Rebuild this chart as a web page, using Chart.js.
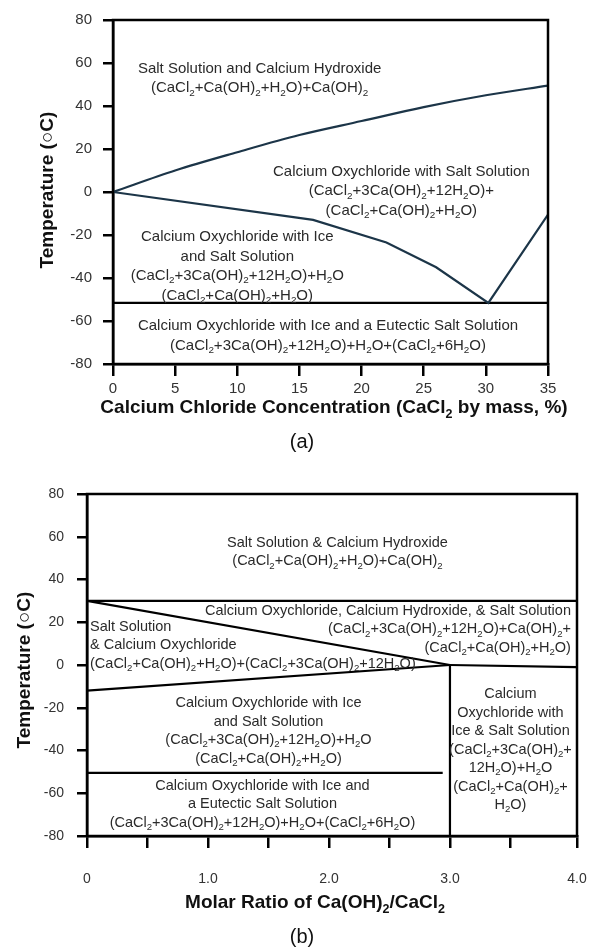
<!DOCTYPE html>
<html>
<head>
<meta charset="utf-8">
<script src="https://cdn.jsdelivr.net/npm/chart.js@4.4.1/dist/chart.umd.min.js"></script>
<style>
  html, body { margin: 0; padding: 0; background: #fff; }
  body { width: 595px; height: 949px; position: relative; overflow: hidden; }
  .box { position: absolute; left: 0; width: 595px; }
  #boxA { top: 0; height: 460px; }
  #boxB { top: 460px; height: 489px; }
</style>
</head>
<body>
<div class="box" id="boxA"><canvas id="chartA"></canvas></div>
<div class="box" id="boxB"><canvas id="chartB"></canvas></div>
<script>
// ---- (a) phase boundaries vs CaCl2 concentration (mass %) ----
const concUpper = [0, 5, 10, 15, 20, 25, 30, 35];
const tempUpper = [0, 10, 18.5, 26.5, 33, 39.5, 45, 49.5];
const concLower = [0, 16.1, 22, 26, 30.2, 35];
const tempLower = [0, -13, -23.5, -35, -51.6, -10.5];
const concEutectic = [0, 35];
const tempEutectic = [-51.6, -51.6];

// ---- (b) phase boundaries vs molar ratio Ca(OH)2/CaCl2 ----
// the drawn frame runs a little past 4.0, its corner carries the "4.0" label
const ratioEdge = 4.05;
const ratioTop = [0, ratioEdge];
const tempTop = [30, 30];
const ratioUpperDiag = [0, 3];
const tempUpperDiag = [30, 0];
const ratioLowerDiag = [0, 3];
const tempLowerDiag = [-12, 0];
const ratioRight = [3, ratioEdge];
const tempRight = [0, -1];
const ratioVertical = [3, 3];
const tempVertical = [0, -80];
const ratioEutecticB = [0, 2.94];
const tempEutecticB = [-50.5, -50.5];

// region texts ("_2" = subscript 2)
const textA1 = ["Salt Solution and Calcium Hydroxide", "(CaCl_2+Ca(OH)_2+H_2O)+Ca(OH)_2"];
const textA2 = ["Calcium Oxychloride with Salt Solution", "(CaCl_2+3Ca(OH)_2+12H_2O)+", "(CaCl_2+Ca(OH)_2+H_2O)"];
const textA3 = ["Calcium Oxychloride with Ice", "and Salt Solution", "(CaCl_2+3Ca(OH)_2+12H_2O)+H_2O", "(CaCl_2+Ca(OH)_2+H_2O)"];
const textA4 = ["Calcium Oxychloride with Ice and a Eutectic Salt Solution", "(CaCl_2+3Ca(OH)_2+12H_2O)+H_2O+(CaCl_2+6H_2O)"];

const textB1 = ["Salt Solution & Calcium Hydroxide", "(CaCl_2+Ca(OH)_2+H_2O)+Ca(OH)_2"];
const textB2 = ["Calcium Oxychloride, Calcium Hydroxide, & Salt Solution", "(CaCl_2+3Ca(OH)_2+12H_2O)+Ca(OH)_2+", "(CaCl_2+Ca(OH)_2+H_2O)"];
const textB3 = ["Salt Solution", "& Calcium Oxychloride", "(CaCl_2+Ca(OH)_2+H_2O)+(CaCl_2+3Ca(OH)_2+12H_2O)"];
const textB4 = ["Calcium Oxychloride with Ice", "and Salt Solution", "(CaCl_2+3Ca(OH)_2+12H_2O)+H_2O", "(CaCl_2+Ca(OH)_2+H_2O)"];
const textB5 = ["Calcium Oxychloride with Ice and", "a Eutectic Salt Solution", "(CaCl_2+3Ca(OH)_2+12H_2O)+H_2O+(CaCl_2+6H_2O)"];
const textB6 = ["Calcium", "Oxychloride with", "Ice & Salt Solution", "(CaCl_2+3Ca(OH)_2+", "12H_2O)+H_2O", "(CaCl_2+Ca(OH)_2+", "H_2O)"];

const FONT = '"Liberation Sans", Arial, sans-serif';

function pts(xs, ys) {
  return xs.map((x, i) => ({ x: x, y: ys[i] }));
}

// draw text with subscript digits marked as _N
function drawRich(ctx, str, x, y, align, size, weight, color) {
  const parts = str.split(/_(\d)/);
  const base = weight + " " + size + "px " + FONT;
  const sub = weight + " " + (size * 0.66).toFixed(1) + "px " + FONT;
  let w = 0;
  parts.forEach((p, i) => {
    ctx.font = i % 2 ? sub : base;
    w += ctx.measureText(p).width;
  });
  let cx = align === "center" ? x - w / 2 : align === "right" ? x - w : x;
  ctx.textAlign = "left";
  ctx.textBaseline = "middle";
  ctx.fillStyle = color;
  parts.forEach((p, i) => {
    ctx.font = i % 2 ? sub : base;
    ctx.fillText(p, cx, i % 2 ? y + size * 0.32 : y);
    cx += ctx.measureText(p).width;
  });
}

const decorPlugin = {
  id: "decor",
  afterDatasetsDraw(chart, args, opts) {
    const ctx = chart.ctx;
    const xs = chart.scales.x, ys = chart.scales.y;
    const a = chart.chartArea;
    ctx.save();
    // frame
    ctx.strokeStyle = "#000";
    ctx.lineWidth = 2.5;
    ctx.strokeRect(a.left, a.top, a.right - a.left, a.bottom - a.top);
    // region labels
    opts.blocks.forEach((b) => {
      const px = xs.getPixelForValue(b.x);
      const py = ys.getPixelForValue(b.y);
      b.lines.forEach((l, i) => {
        drawRich(ctx, l, px, py + i * opts.lineHeight, b.align, opts.textSize, "normal", "#2a2a2a");
      });
    });
    // axis titles
    drawRich(ctx, opts.xTitle, opts.xTitlePos[0], opts.xTitlePos[1], "center", 19, "bold", "#111");
    ctx.translate(opts.yTitlePos[0], opts.yTitlePos[1]);
    ctx.rotate(-Math.PI / 2);
    drawRich(ctx, "Temperature (\u25CBC)", 0, 0, "center", 19, "bold", "#111");
    ctx.restore();
    ctx.save();
    drawRich(ctx, opts.caption, opts.captionPos[0], opts.captionPos[1], "center", 20, "normal", "#111");
    ctx.restore();
  },
};

function lineSet(data, color, extra) {
  return Object.assign({
    data: data,
    showLine: true,
    borderColor: color,
    borderWidth: 2.2,
    pointRadius: 0,
    tension: 0,
    fill: false,
  }, extra || {});
}

function axes(xMin, xMax, xStep, yWidth, xHeight, tickSize, xPad, yPad, xCallback, xTickFilter) {
  const gridOpts = {
    display: true,
    drawOnChartArea: false,
    drawTicks: true,
    tickLength: 11,
    color: "#000",
    lineWidth: 2.5,
  };
  return {
    x: {
      type: "linear",
      min: xMin,
      max: xMax,
      afterFit: (s) => {
        s.height = xHeight;
        s.paddingLeft = 0;
        s.paddingRight = 0;
      },
      afterBuildTicks: xTickFilter,
      border: { display: true, color: "#000", width: 2.5 },
      grid: Object.assign({}, gridOpts, { tickLength: 12 }),
      ticks: {
        stepSize: xStep,
        autoSkip: false,
        maxRotation: 0,
        padding: xPad,
        color: "#333",
        font: { family: FONT, size: tickSize },
        callback: xCallback,
      },
    },
    y: {
      type: "linear",
      min: -80,
      max: 80,
      afterFit: (s) => { s.width = yWidth; },
      border: { display: true, color: "#000", width: 2.5 },
      grid: Object.assign({}, gridOpts, { tickLength: 10 }),
      ticks: {
        stepSize: 20,
        padding: yPad,
        color: "#333",
        font: { family: FONT, size: tickSize },
      },
    },
  };
}

const baseOptions = {
  responsive: true,
  maintainAspectRatio: false,
  animation: false,
  plugins: { legend: { display: false }, tooltip: { enabled: false } },
};

// chart (a)
const curveColor = "#1c3548";
new Chart(document.getElementById("chartA").getContext("2d"), {
  type: "scatter",
  data: {
    datasets: [
      lineSet(pts(concUpper, tempUpper), curveColor, { cubicInterpolationMode: "monotone" }),
      lineSet(pts(concLower, tempLower), curveColor),
      lineSet(pts(concEutectic, tempEutectic), "#000"),
    ],
  },
  options: Object.assign({}, baseOptions, {
    layout: { padding: { left: 0, right: 47, top: 12, bottom: 0 } },
    scales: axes(0, 35, 5, 113, 96, 15, 4, 11, (v) => v),
    plugins: Object.assign({}, baseOptions.plugins, {
      decor: {
        textSize: 15,
        lineHeight: 19.5,
        blocks: [
          { lines: textA1, x: 11.8, y: 57.3, align: "center" },
          { lines: textA2, x: 23.2, y: 9.5, align: "center" },
          { lines: textA3, x: 10.0, y: -20.9, align: "center" },
          { lines: textA4, x: 17.3, y: -62.3, align: "center" },
        ],
        xTitle: "Calcium Chloride Concentration (CaCl_2 by mass, %)",
        xTitlePos: [334, 408],
        yTitlePos: [48, 190],
        caption: "(a)",
        captionPos: [302, 442],
      },
    }),
  }),
  plugins: [decorPlugin],
});

// chart (b)
new Chart(document.getElementById("chartB").getContext("2d"), {
  type: "scatter",
  data: {
    datasets: [
      lineSet(pts(ratioTop, tempTop), "#000"),
      lineSet(pts(ratioUpperDiag, tempUpperDiag), "#000"),
      lineSet(pts(ratioLowerDiag, tempLowerDiag), "#000"),
      lineSet(pts(ratioRight, tempRight), "#000"),
      lineSet(pts(ratioVertical, tempVertical), "#000"),
      lineSet(pts(ratioEutecticB, tempEutecticB), "#000"),
    ],
  },
  options: Object.assign({}, baseOptions, {
    layout: { padding: { left: 0, right: 18, top: 34, bottom: 0 } },
    scales: axes(
      0, ratioEdge, 0.5, 87, 113, 14, 23, 13,
      (v) => (v === 0 ? "0" : v === ratioEdge ? "4.0" : Number.isInteger(v) ? v.toFixed(1) : ""),
      (s) => {
        // last tick sits on the frame corner
        s.ticks = s.ticks.filter((t) => t.value <= 3.5);
        s.ticks.push({ value: ratioEdge });
      }
    ),
    plugins: Object.assign({}, baseOptions.plugins, {
      decor: {
        textSize: 14.5,
        lineHeight: 18.5,
        blocks: [
          { lines: textB1, x: 2.07, y: 57.1, align: "center" },
          { lines: textB2, x: 4.0, y: 25.3, align: "right" },
          { lines: textB3, x: 0.025, y: 17.8, align: "left" },
          { lines: textB4, x: 1.5, y: -17.8, align: "center" },
          { lines: textB5, x: 1.45, y: -56.6, align: "center" },
          { lines: textB6, x: 3.5, y: -13.6, align: "center" },
        ],
        xTitle: "Molar Ratio of Ca(OH)_2/CaCl_2",
        xTitlePos: [315, 443],
        yTitlePos: [25, 210],
        caption: "(b)",
        captionPos: [302, 477],
      },
    }),
  }),
  plugins: [decorPlugin],
});
</script>
</body>
</html>
